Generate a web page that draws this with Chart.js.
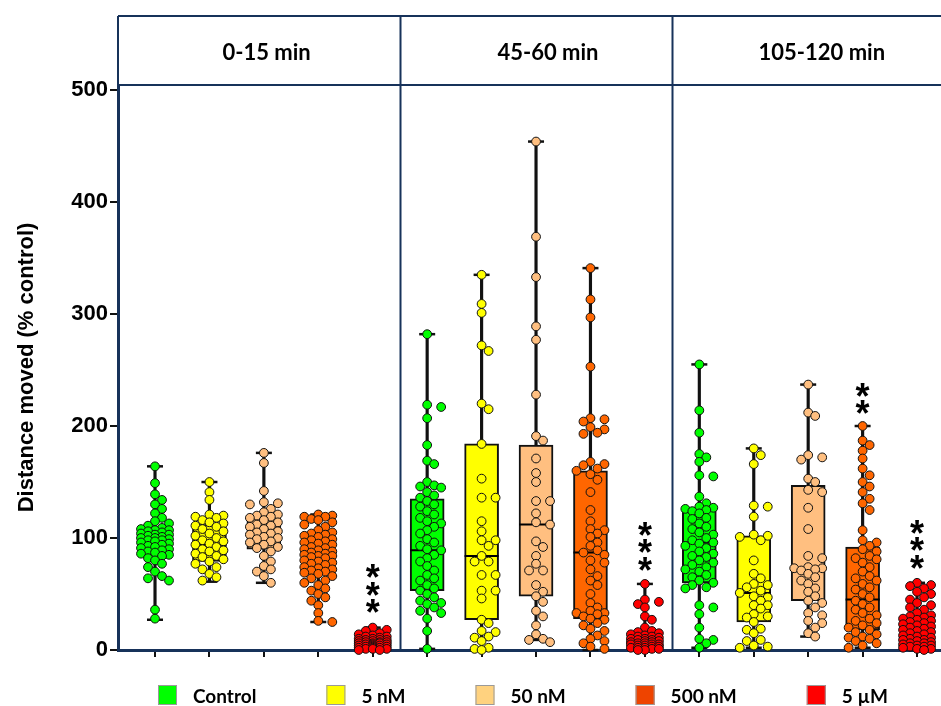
<!DOCTYPE html>
<html><head><meta charset="utf-8">
<script src="https://cdn.jsdelivr.net/npm/chart.js@4.4.0/dist/chart.umd.min.js"></script>
<style>html,body{margin:0;padding:0;background:#fff}</style>
</head><body>
<canvas id="c" width="941" height="706"></canvas>
<script>
// ---------- data ----------
const periods = ['0-15 min', '45-60 min', '105-120 min'];
const treatments = ['Control', '5 nM', '50 nM', '500 nM', '5 µM'];
const yTicks = [0, 100, 200, 300, 400, 500];

// box statistics, one entry per box (period-major, treatment-minor)
const boxMin = [27, 61, 60, 25, 0,   1, 0, 9, 0, 0,    2, 2, 12, 2, 0];
const boxQ1  = [85, 79, 90, 68.5, 2, 53, 27, 48, 28, 1, 60, 25, 44, 18, 6];
const boxMed = [98, 94, 105, 84, 5,  89, 84, 112, 87, 5, 96, 51, 73, 45, 16];
const boxQ3  = [108, 112, 120, 103, 9, 135, 184, 183, 160, 15, 127, 102, 147, 92, 28];
const boxMax = [164, 150, 176, 121, 20, 282, 335, 454, 341, 59, 255, 180, 237, 200, 60];

// individual animals
const p1Control = [164, 149, 139, 134, 130, 126, 122, 118, 115, 113, 111, 109, 108, 107, 107, 106, 105, 104, 103, 103, 102, 101, 100, 100, 99, 98, 98, 97, 96, 95, 94, 93, 92, 91, 90, 89, 88, 87, 86, 85, 84, 82, 80, 77, 74, 70, 66, 64, 62, 36, 28];
const p1nM5 = [150, 141, 134, 121, 120, 119, 118, 116, 114, 113, 111, 110, 108, 106, 104, 102, 100, 98, 97, 95, 94, 92, 90, 89, 88, 86, 84, 83, 81, 79, 77, 74, 72, 68, 65, 62];
const p1nM50 = [176, 167, 142, 132, 131, 130, 126, 123, 121, 120, 119, 118, 116, 114, 112, 111, 110, 108, 106, 105, 104, 103, 101, 100, 99, 97, 96, 94, 92, 91, 88, 84, 79, 75, 72, 70, 66, 60];
const p1nM500 = [121, 120, 119, 119, 117, 116, 114, 112, 110, 107, 105, 104, 103, 102, 101, 99, 98, 97, 96, 95, 94, 92, 91, 90, 89, 88, 87, 86, 85, 84, 84, 83, 82, 80, 79, 78, 77, 76, 74, 73, 72, 71, 70, 69, 68, 66, 64, 62, 60, 58, 55, 53, 50, 47, 44, 40, 33, 26, 25];
const p1uM5 = [20, 18, 17, 15, 14, 13, 12, 12, 11, 10, 10, 9, 9, 9, 8, 8, 7, 7, 7, 6, 6, 6, 5, 5, 5, 4, 4, 4, 3, 3, 3, 2, 2, 2, 1, 1, 1, 0, 0];
const p2Control = [282, 219, 217, 207, 183, 169, 166, 150, 147, 146, 145, 141, 138, 136, 133, 130, 128, 124, 121, 118, 115, 113, 110, 107, 104, 99, 96, 93, 90, 89, 85, 82, 79, 75, 71, 67, 64, 62, 58, 55, 53, 50, 47, 44, 42, 41, 38, 35, 33, 28, 17, 1];
const p2nM5 = [335, 309, 301, 272, 267, 220, 215, 184, 153, 136, 136, 115, 106, 98, 98, 93, 84, 79, 79, 67, 67, 53, 53, 46, 27, 24, 17, 16, 12, 11, 8, 2, 1, 0];
const p2nM50 = [454, 369, 333, 289, 277, 228, 191, 187, 171, 158, 150, 133, 133, 122, 114, 112, 97, 92, 84, 77, 71, 71, 58, 52, 48, 43, 35, 30, 22, 14, 10, 9, 7];
const p2nM500 = [341, 313, 297, 253, 207, 206, 204, 199, 197, 194, 193, 168, 166, 165, 162, 160, 157, 152, 141, 125, 115, 108, 107, 104, 101, 96, 93, 89, 87, 85, 80, 78, 72, 66, 62, 58, 50, 42, 38, 35, 33, 33, 32, 30, 28, 27, 24, 22, 19, 17, 13, 10, 8, 6, 3, 1];
const p2uM5 = [59, 45, 43, 41, 38, 30, 27, 20, 17, 16, 15, 14, 13, 12, 12, 11, 10, 10, 9, 9, 8, 8, 7, 7, 6, 6, 5, 5, 5, 4, 4, 3, 3, 2, 2, 2, 1, 1, 0, 0];
const p3Control = [255, 214, 194, 175, 172, 168, 156, 155, 137, 131, 128, 127, 126, 125, 124, 122, 118, 117, 113, 110, 108, 105, 103, 100, 98, 96, 95, 93, 91, 88, 86, 84, 83, 80, 78, 76, 74, 72, 70, 67, 65, 62, 60, 58, 56, 55, 40, 38, 32, 20, 10, 9, 6, 2];
const p3nM5 = [180, 174, 166, 129, 128, 119, 103, 102, 101, 98, 80, 68, 64, 59, 58, 56, 53, 51, 48, 47, 44, 40, 40, 37, 32, 30, 29, 25, 19, 18, 15, 9, 8, 4, 3, 2];
const p3nM50 = [237, 212, 209, 174, 172, 170, 153, 150, 143, 141, 127, 108, 84, 82, 74, 73, 73, 72, 71, 68, 65, 62, 59, 55, 52, 48, 44, 42, 38, 33, 31, 26, 24, 20, 15, 12];
const p3nM500 = [200, 187, 183, 178, 171, 162, 156, 150, 146, 141, 135, 131, 125, 107, 98, 96, 93, 90, 88, 84, 82, 81, 78, 74, 70, 66, 64, 62, 59, 56, 54, 50, 47, 44, 41, 38, 36, 33, 31, 28, 26, 24, 22, 20, 18, 16, 14, 12, 11, 10, 8, 6, 4, 2];
const p3uM5 = [60, 58, 57, 55, 52, 50, 47, 45, 42, 40, 38, 36, 33, 31, 30, 29, 28, 27, 26, 25, 24, 23, 22, 21, 20, 19, 18, 17, 16, 15, 14, 13, 12, 11, 10, 9, 9, 8, 7, 6, 6, 5, 4, 4, 3, 3, 2, 1, 1, 0];

const groups = [p1Control, p1nM5, p1nM50, p1nM500, p1uM5,
                p2Control, p2nM5, p2nM50, p2nM500, p2uM5,
                p3Control, p3nM5, p3nM50, p3nM500, p3uM5];

// significance marks
const starGroup = [4, 9, 13, 14];
const starCount = [3, 3, 2, 3];
const starBase  = [40, 78, 218, 80];

// ---------- styling ----------
const boxColors = ['#00ff00', '#ffff00', '#ffbf80', '#ff6600', '#ff0000'];
const legendColors = ['#00ff00', '#ffff00', '#ffd27f', '#ee4400', '#ff0000'];
const NAVY = '#17325a';
const X_MIN = -0.68, X_MAX = 14.44, Y_MAX = 504.5;
const panelEdges = [4.5, 9.5];
const headerCenters = [2.05, 7.22, 12.25];

// beeswarm-style horizontal spread (layout only, deterministic from the values)
const PX_X = 54.43, PX_Y = 1.12, COL = 7, MIN_D = 7.6, MAX_COL = 2;
function swarm(values) {
  const placed = [], out = new Array(values.length);
  const order = values.map((v, i) => i).sort((a, b) => values[b] - values[a]);
  const cols = [0];
  for (let k = 1; k <= MAX_COL; k++) { cols.push(k, -k); }
  order.forEach(i => {
    const yp = values[i] * PX_Y;
    let best = 0, bestD = -1;
    for (const k of cols) {
      const xp = k * COL;
      let dmin = Infinity;
      for (const p of placed) {
        const d = Math.hypot(p.x - xp, p.y - yp);
        if (d < dmin) dmin = d;
      }
      if (dmin >= MIN_D) { best = k; bestD = Infinity; break; }
      if (dmin > bestD + 0.5) { bestD = dmin; best = k; }
    }
    placed.push({x: best * COL, y: yp});
    out[i] = best * COL / PX_X;
  });
  return out;
}

const pointSets = treatments.map((t, ti) => {
  const data = [];
  groups.forEach((vals, gi) => {
    if (gi % 5 !== ti) return;
    const offs = swarm(vals);
    vals.forEach((v, k) => data.push({x: gi + offs[k], y: v}));
  });
  return {
    type: 'scatter', label: t, data, order: 0, clip: false,
    pointRadius: 4.4, pointHoverRadius: 4.4, pointBorderWidth: 1,
    pointBorderColor: '#111', pointBackgroundColor: boxColors[ti]
  };
});

const idx = groups.map((g, i) => i);

const datasets = [
  ...pointSets,
  { type: 'scatter', label: 'median', order: 1, clip: false,
    data: idx.map(i => ({x: i, y: boxMed[i]})),
    pointStyle: 'line', pointRadius: 17, pointHoverRadius: 17, pointBorderWidth: 2, pointBorderColor: '#000' },
  { type: 'scatter', label: 'caps', order: 2, clip: false,
    data: idx.flatMap(i => [{x: i, y: boxMin[i]}, {x: i, y: boxMax[i]}]),
    pointStyle: 'line', pointRadius: 8, pointHoverRadius: 8, pointBorderWidth: 2.5, pointBorderColor: '#111' },
  { type: 'bar', label: 'box', order: 3, grouped: false,
    data: idx.map(i => ({x: i, y: [boxQ1[i], boxQ3[i]]})),
    backgroundColor: idx.map(i => boxColors[i % 5]), borderColor: '#111', borderWidth: 2,
    borderSkipped: false, barThickness: 34 },
  { type: 'bar', label: 'whisker', order: 4, grouped: false,
    data: idx.map(i => ({x: i, y: [boxMin[i], boxMax[i]]})),
    backgroundColor: '#111', borderWidth: 0, barThickness: 2.5 }
];

const framePlugin = {
  id: 'frame',
  afterDraw(chart) {
    const {ctx, chartArea: ca, scales: {x, y}} = chart;
    const headTop = 16;
    ctx.save();
    ctx.strokeStyle = NAVY; ctx.lineWidth = 2;
    ctx.beginPath();
    ctx.moveTo(ca.left, headTop); ctx.lineTo(ca.right, headTop);
    ctx.moveTo(ca.left, ca.top); ctx.lineTo(ca.right, ca.top);
    ctx.moveTo(ca.left, headTop); ctx.lineTo(ca.left, ca.top);
    panelEdges.forEach(v => {
      const px = Math.round(x.getPixelForValue(v)) + 0.5;
      ctx.moveTo(px, headTop); ctx.lineTo(px, ca.bottom);
    });
    ctx.stroke();
    ctx.fillStyle = '#000';
    ctx.font = 'bold 22px Lato';
    ctx.textAlign = 'center'; ctx.textBaseline = 'middle';
    periods.forEach((p, i) => ctx.fillText(p, x.getPixelForValue(headerCenters[i]), (headTop + ca.top) / 2 + 2));
    // stars
    const sz = 36;
    ctx.font = 'bold ' + sz + 'px "Liberation Sans"';
    ctx.textBaseline = 'alphabetic';
    starGroup.forEach((g, j) => {
      const px = x.getPixelForValue(g);
      const py0 = y.getPixelForValue(starBase[j]);
      for (let k = 0; k < starCount[j]; k++) {
        ctx.fillText('*', px, py0 - k * 17.5 + 0.56 * sz);
      }
    });
    // legend row
    ctx.font = 'bold 19px Lato';
    ctx.textAlign = 'left'; ctx.textBaseline = 'middle';
    let lx = ca.left + 40; const ly = 695;
    treatments.forEach((t, i) => {
      ctx.fillStyle = legendColors[i];
      ctx.fillRect(lx, ly - 10, 19, 20);
      ctx.strokeStyle = '#9a9a9a'; ctx.lineWidth = 1;
      ctx.strokeRect(lx + 0.5, ly - 9.5, 18, 19);
      ctx.fillStyle = '#000';
      ctx.fillText(t, lx + 35, ly + 2);
      lx += 35 + ctx.measureText(t).width + 70;
    });
    ctx.restore();
  }
};

new Chart(document.getElementById('c'), {
  type: 'scatter',
  data: {datasets},
  options: {
    responsive: false, animation: false, events: [],
    layout: {autoPadding: false, padding: {top: 85, bottom: 49, left: 0, right: 0}},
    plugins: {legend: {display: false}, tooltip: {enabled: false}},
    scales: {
      x: {
        type: 'linear', min: X_MIN, max: X_MAX, offset: false, z: 1,
        afterBuildTicks: s => { s.ticks = idx.map(i => ({value: i})); },
        ticks: {display: false},
        grid: {drawOnChartArea: false, drawTicks: true, tickLength: 7, color: '#111', lineWidth: 2, offset: false},
        border: {display: true, color: NAVY, width: 3}
      },
      y: {
        type: 'linear', min: 0, max: Y_MAX, z: 1,
        afterBuildTicks: s => { s.ticks = yTicks.map(v => ({value: v})); },
        afterFit: s => { s.width = 118; },
        ticks: {color: '#000', padding: 2, font: {family: '"Liberation Sans", Arial', weight: 'bold', size: 22}},
        grid: {drawOnChartArea: false, drawTicks: true, tickLength: 8, color: '#111', lineWidth: 2},
        border: {display: true, color: NAVY, width: 3},
        title: {display: true, text: 'Distance moved (% control)', color: '#000',
                font: {family: '"Liberation Sans", Arial', weight: 'bold', size: 22},
                padding: {top: 14, bottom: 0}}
      }
    }
  },
  plugins: [framePlugin]
});
</script>
</body></html>
